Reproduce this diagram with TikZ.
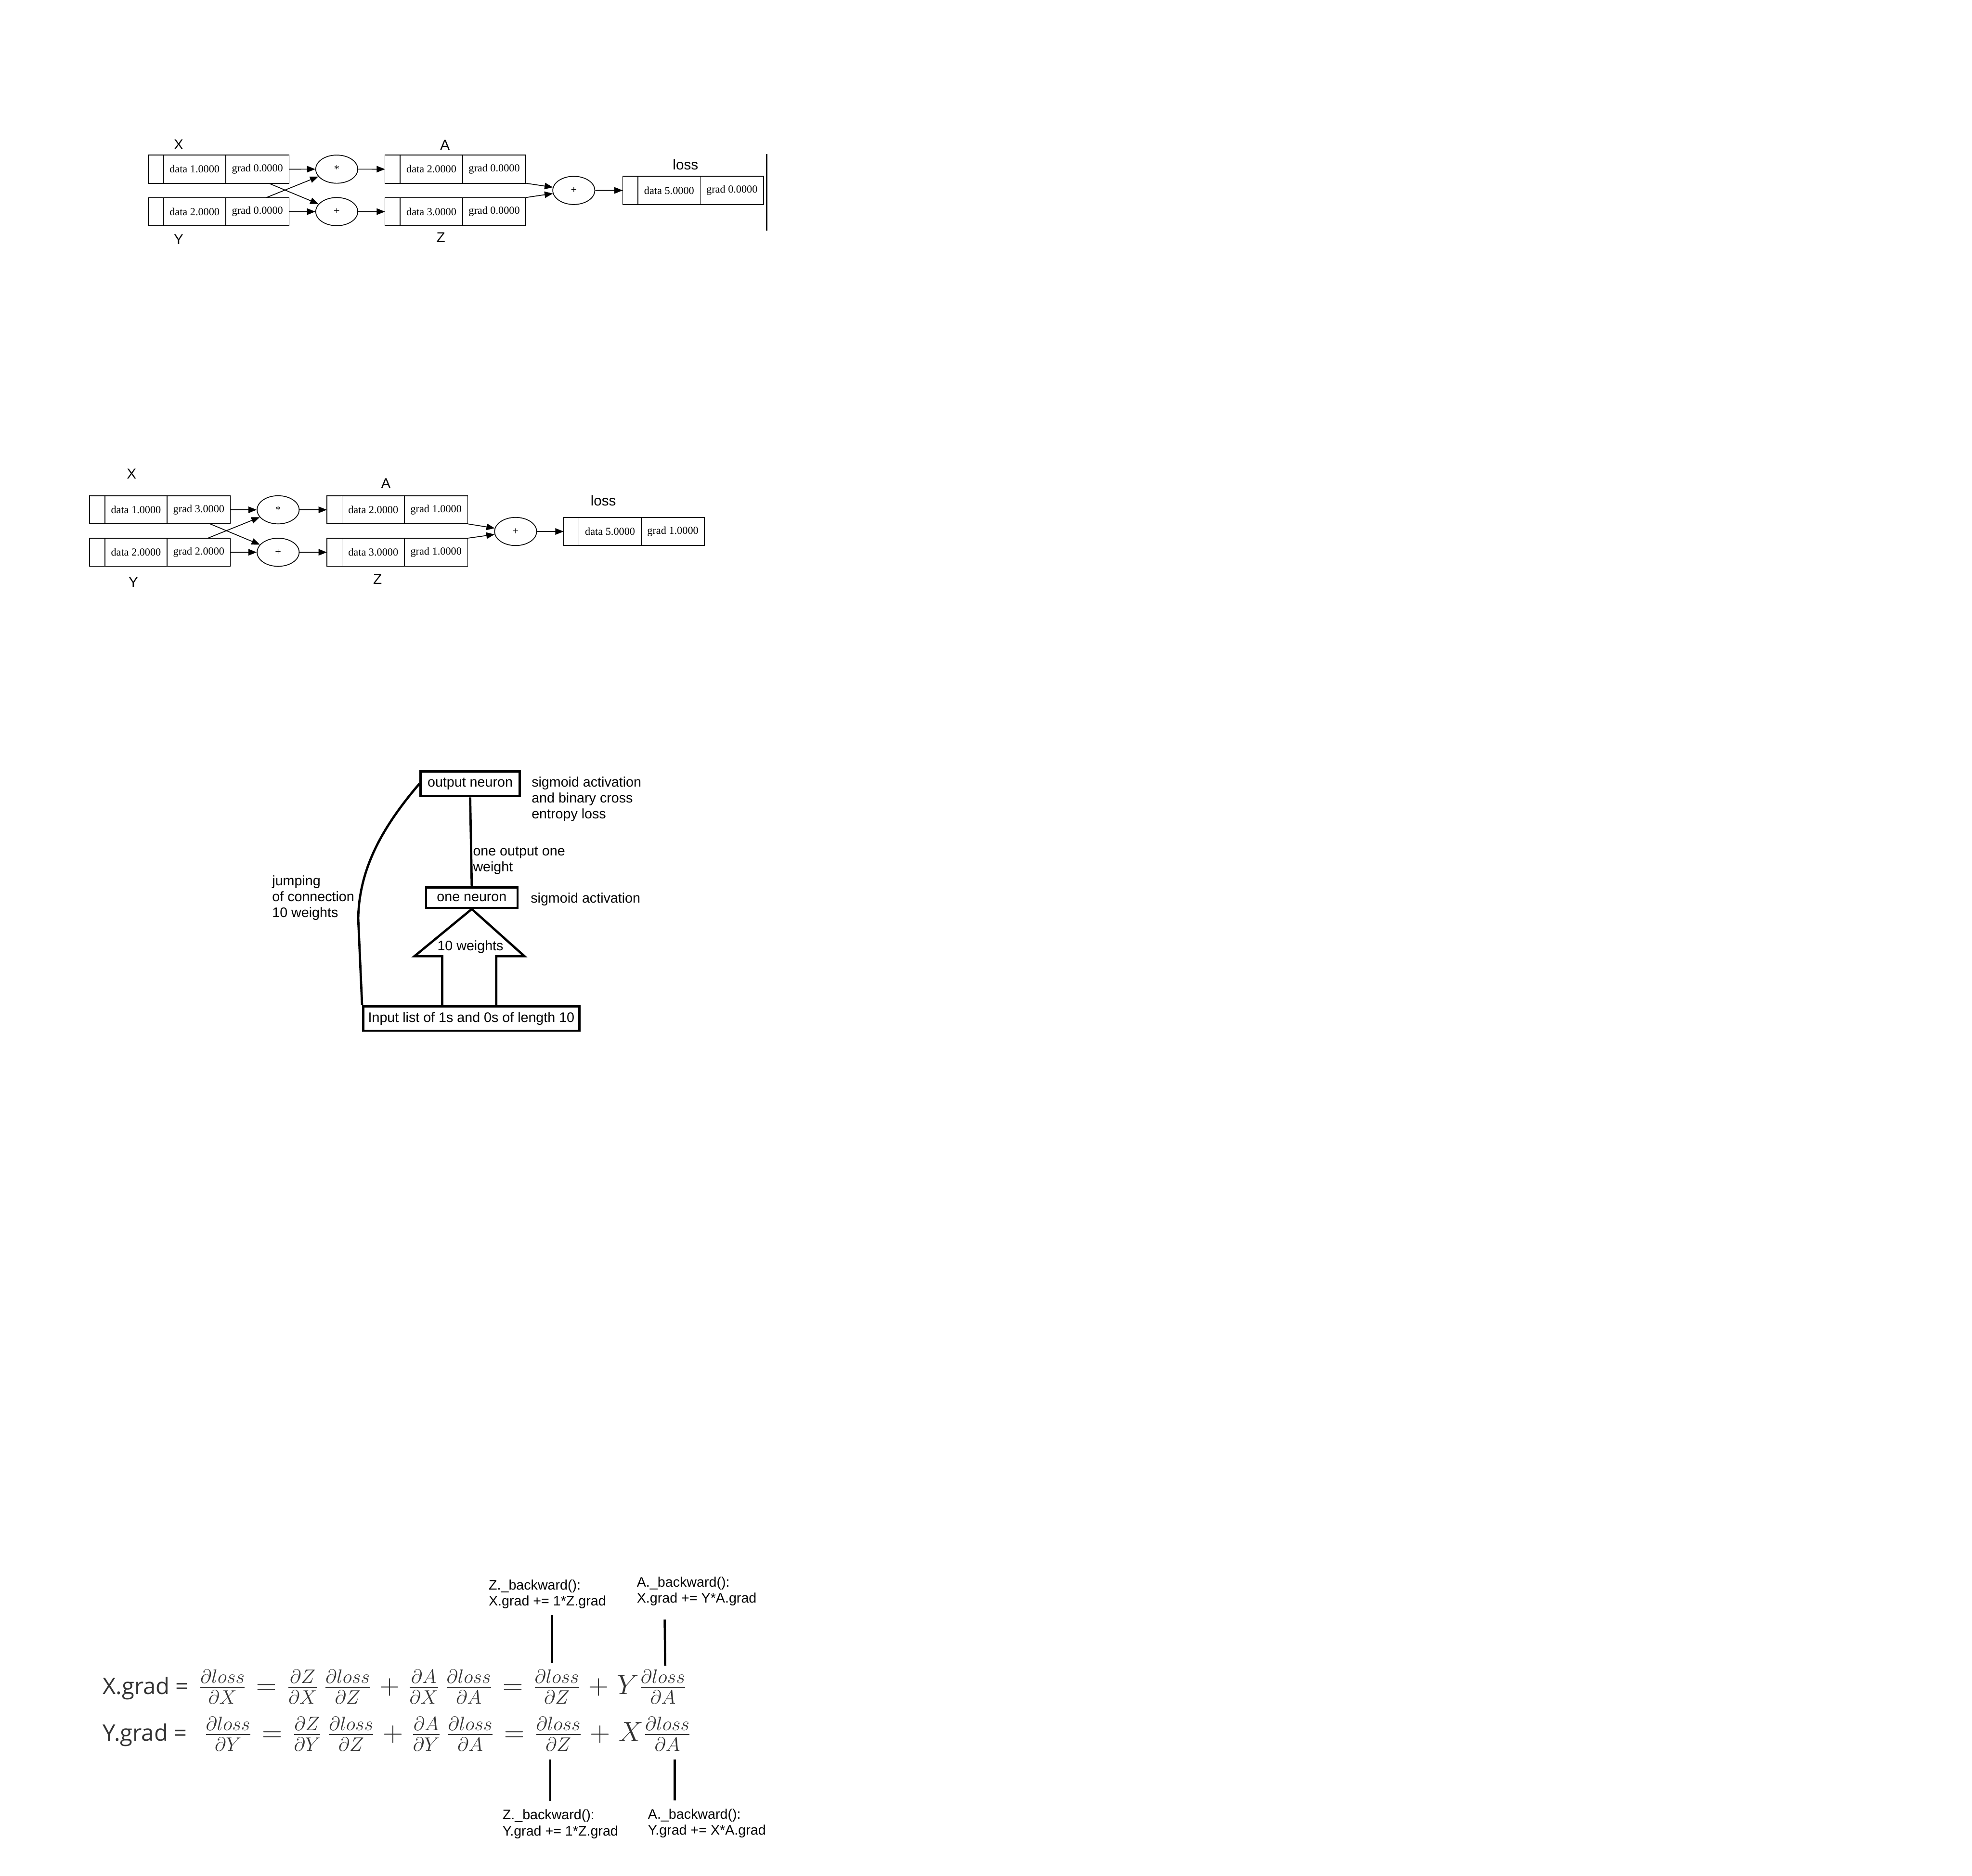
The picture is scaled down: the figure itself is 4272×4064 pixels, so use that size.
\documentclass[tikz,border=0pt]{standalone}
\usepackage{amsmath}
\usepackage{fontspec}
\newfontfamily\gvserif{Liberation Serif}
\newfontfamily\gvsans{Liberation Sans}
\newfontfamily\paintsans{Liberation Sans}
\newfontfamily\eqsans{Open Sans}
\usepackage{tikz}
\usetikzlibrary{arrows.meta, positioning, shapes.geometric, calc}
\DeclareMathSizes{17.28}{17.28}{12}{10}
\definecolor{eqgray}{RGB}{51,51,51}
\tikzset{
  valcell/.style={draw, line width=0.5pt, minimum height=0.61cm, inner sep=0pt,
                  outer sep=0pt, font=\gvserif\fontsize{6.6}{8}\selectfont},
  opnode/.style={draw, ellipse, line width=0.5pt, minimum width=0.91cm,
                 minimum height=0.61cm, inner sep=0pt,
                 font=\gvserif\fontsize{6.6}{8}\selectfont},
  gvlabel/.style={font=\gvsans\fontsize{8.8}{10}\selectfont, inner sep=0pt},
  gvedge/.style={-{Triangle[length=0.18cm, width=0.14cm]}, line width=0.5pt},
  paintbox/.style={draw, line width=1.4pt, inner sep=0pt,
                   font=\paintsans\fontsize{8.5}{9.8}\selectfont},
  painttext/.style={font=\paintsans\fontsize{8.5}{9.8}\selectfont, align=left,
                    inner sep=0pt},
  paintline/.style={line width=1.4pt},
  eqlabel/.style={font=\eqsans\fontsize{14}{16}\selectfont, text=eqgray, inner sep=0pt},
  eqmath/.style={font=\fontsize{17.28}{20}\selectfont, text=eqgray, inner sep=0pt},
}
% value box: name, north west corner, data, grad
\newcommand{\valnode}[4]{%
  \node[valcell, minimum width=0.33cm, anchor=north west] (#1) at #2 {};
  \node[valcell, minimum width=1.35cm, right=0pt of #1] (#1data) {data #3};
  \node[valcell, minimum width=1.37cm, right=0pt of #1data] (#1grad) {grad #4};}

\begin{document}
\begin{tikzpicture}[x=0.01cm, y=-0.01cm]
  \useasboundingbox (0,0) rectangle (4272,4064);
  \fill[white] (0,0) rectangle (4272,4064);

  % Forward graph
  \valnode{x}{(321,336)}{1.0000}{0.0000}
  \valnode{y}{(321,428)}{2.0000}{0.0000}
  \node[opnode] (mul) at (729.5,366.5) {*};
  \node[opnode] (add) at (729.5,458.5) {+};
  \valnode{a}{(834,336)}{2.0000}{0.0000}
  \valnode{z}{(834,428)}{3.0000}{0.0000}
  \node[opnode] (sum) at (1243,412.5) {+};
  \valnode{loss}{(1349,382)}{5.0000}{0.0000}

  \node[gvlabel] (xlab) at (387,313) {X};
  \node[gvlabel] (ylab) at (387,519) {Y};
  \node[gvlabel] (alab) at (964,314) {A};
  \node[gvlabel] (zlab) at (955,514) {Z};
  \node[gvlabel] (losslab) at (1485,357) {loss};

  \draw[gvedge] (xgrad.east) -- (mul);
  \draw[gvedge] ([xshift=0.88cm]ygrad.north west) -- (mul);
  \draw[gvedge] ([xshift=0.93cm]xgrad.south west) -- (add);
  \draw[gvedge] (ygrad.east) -- (add);
  \draw[gvedge] (mul) -- (a.west);
  \draw[gvedge] (add) -- (z.west);
  \draw[gvedge] (agrad.south east) -- (sum);
  \draw[gvedge] (zgrad.north east) -- (sum);
  \draw[gvedge] (sum) -- (loss.west);
  \draw[line width=0.7pt] (1661,334) -- (1661,500);

  % Graph after backward
  \valnode{xb}{(194,1074)}{1.0000}{3.0000}
  \valnode{yb}{(194,1166)}{2.0000}{2.0000}
  \node[opnode] (mulb) at (602.5,1104.5) {*};
  \node[opnode] (addb) at (602.5,1196.5) {+};
  \valnode{ab}{(708,1074)}{2.0000}{1.0000}
  \valnode{zb}{(708,1166)}{3.0000}{1.0000}
  \node[opnode] (sumb) at (1117,1151.5) {+};
  \valnode{lossb}{(1221,1121)}{5.0000}{1.0000}

  \node[gvlabel] (xblab) at (285,1027) {X};
  \node[gvlabel] (yblab) at (289,1261) {Y};
  \node[gvlabel] (ablab) at (836,1047) {A};
  \node[gvlabel] (zblab) at (818,1255) {Z};
  \node[gvlabel] (lossblab) at (1307,1085) {loss};

  \draw[gvedge] (xbgrad.east) -- (mulb);
  \draw[gvedge] ([xshift=0.88cm]ybgrad.north west) -- (mulb);
  \draw[gvedge] ([xshift=0.93cm]xbgrad.south west) -- (addb);
  \draw[gvedge] (ybgrad.east) -- (addb);
  \draw[gvedge] (mulb) -- (ab.west);
  \draw[gvedge] (addb) -- (zb.west);
  \draw[gvedge] (abgrad.south east) -- (sumb);
  \draw[gvedge] (zbgrad.north east) -- (sumb);
  \draw[gvedge] (sumb) -- (lossb.west);

  % Network sketch
  \node[paintbox, minimum width=2.15cm, minimum height=0.54cm] (outn)
    at (1018.5,1698) {output neuron};
  \node[paintbox, minimum width=1.98cm, minimum height=0.44cm] (onen)
    at (1022,1945) {one neuron};
  \node[paintbox, minimum width=4.68cm, minimum height=0.53cm] (inlist)
    at (1021,2206.5) {Input list of 1s and 0s of length 10};

  \draw[paintline] (outn.south) -- (onen.north);
  \draw[paintline] ($(inlist.north)+(-63,0)$) -- ++(0,-106) -- ++(-60,0)
    -- (onen.south) -- ($(inlist.north)+(115,-106)$) -- ++(-61,0)
    -- ($(inlist.north)+(54,0)$);
  \draw[paintline] (outn.west) .. controls (830,1790) and (778,1880)
    .. (776,1990) -- (inlist.north west);

  \node[painttext, anchor=base] (tenw) at (1019,2059) {10 weights};
  \node[painttext, anchor=north west] (outnote) at (1151,1682)
    {sigmoid activation\\and binary cross\\entropy loss};
  \node[painttext, anchor=north west] (wnote) at (1024,1834)
    {one output one\\weight};
  \node[painttext, anchor=base west] (onenote) at (1149,1956) {sigmoid activation};
  \node[painttext, anchor=north west] (jumpnote) at (589,1896)
    {jumping\\of connection\\10 weights};

  % Gradient equations
  \node[eqlabel, anchor=base west] (xglab) at (222,3671) {X.grad =};
  \node[eqmath, anchor=base west] (xgeq) at (429,3671)
    {$\thickmuskip=6.3mu \medmuskip=5mu
     \frac{\partial loss}{\partial X} = \frac{\partial Z}{\partial X}\,
     \frac{\partial loss}{\partial Z} + \frac{\partial A}{\partial X}\,
     \frac{\partial loss}{\partial A} = \frac{\partial loss}{\partial Z}
     + Y\frac{\partial loss}{\partial A}$};
  \node[eqlabel, anchor=base west] (yglab) at (222,3772) {Y.grad =};
  \node[eqmath, anchor=base west] (ygeq) at (441,3773)
    {$\thickmuskip=6.3mu \medmuskip=5mu
     \frac{\partial loss}{\partial Y} = \frac{\partial Z}{\partial Y}\,
     \frac{\partial loss}{\partial Z} + \frac{\partial A}{\partial Y}\,
     \frac{\partial loss}{\partial A} = \frac{\partial loss}{\partial Z}
     + X\frac{\partial loss}{\partial A}$};

  \node[painttext, anchor=north west] (zbx) at (1058,3422)
    {Z.\_backward():\\X.grad += 1*Z.grad};
  \node[painttext, anchor=north west] (abx) at (1379,3416)
    {A.\_backward():\\X.grad += Y*A.grad};
  \node[painttext, anchor=north west] (zby) at (1088,3920)
    {Z.\_backward():\\Y.grad += 1*Z.grad};
  \node[painttext, anchor=north west] (aby) at (1403,3918)
    {A.\_backward():\\Y.grad += X*A.grad};

  \coordinate (zxtop) at (1196,3499);
  \coordinate (zxend) at (1196,3603);
  \coordinate (axtop) at (1440,3509);
  \coordinate (axend) at (1441,3609);
  \coordinate (zytop) at (1192,3812);
  \coordinate (zyend) at (1192,3902);
  \coordinate (aytop) at (1462,3812);
  \coordinate (ayend) at (1462,3901);
  \draw[paintline] (zxtop) -- (zxend);
  \draw[paintline] (axtop) -- (axend);
  \draw[paintline] (zytop) -- (zyend);
  \draw[paintline] (aytop) -- (ayend);
\end{tikzpicture}
\end{document}
